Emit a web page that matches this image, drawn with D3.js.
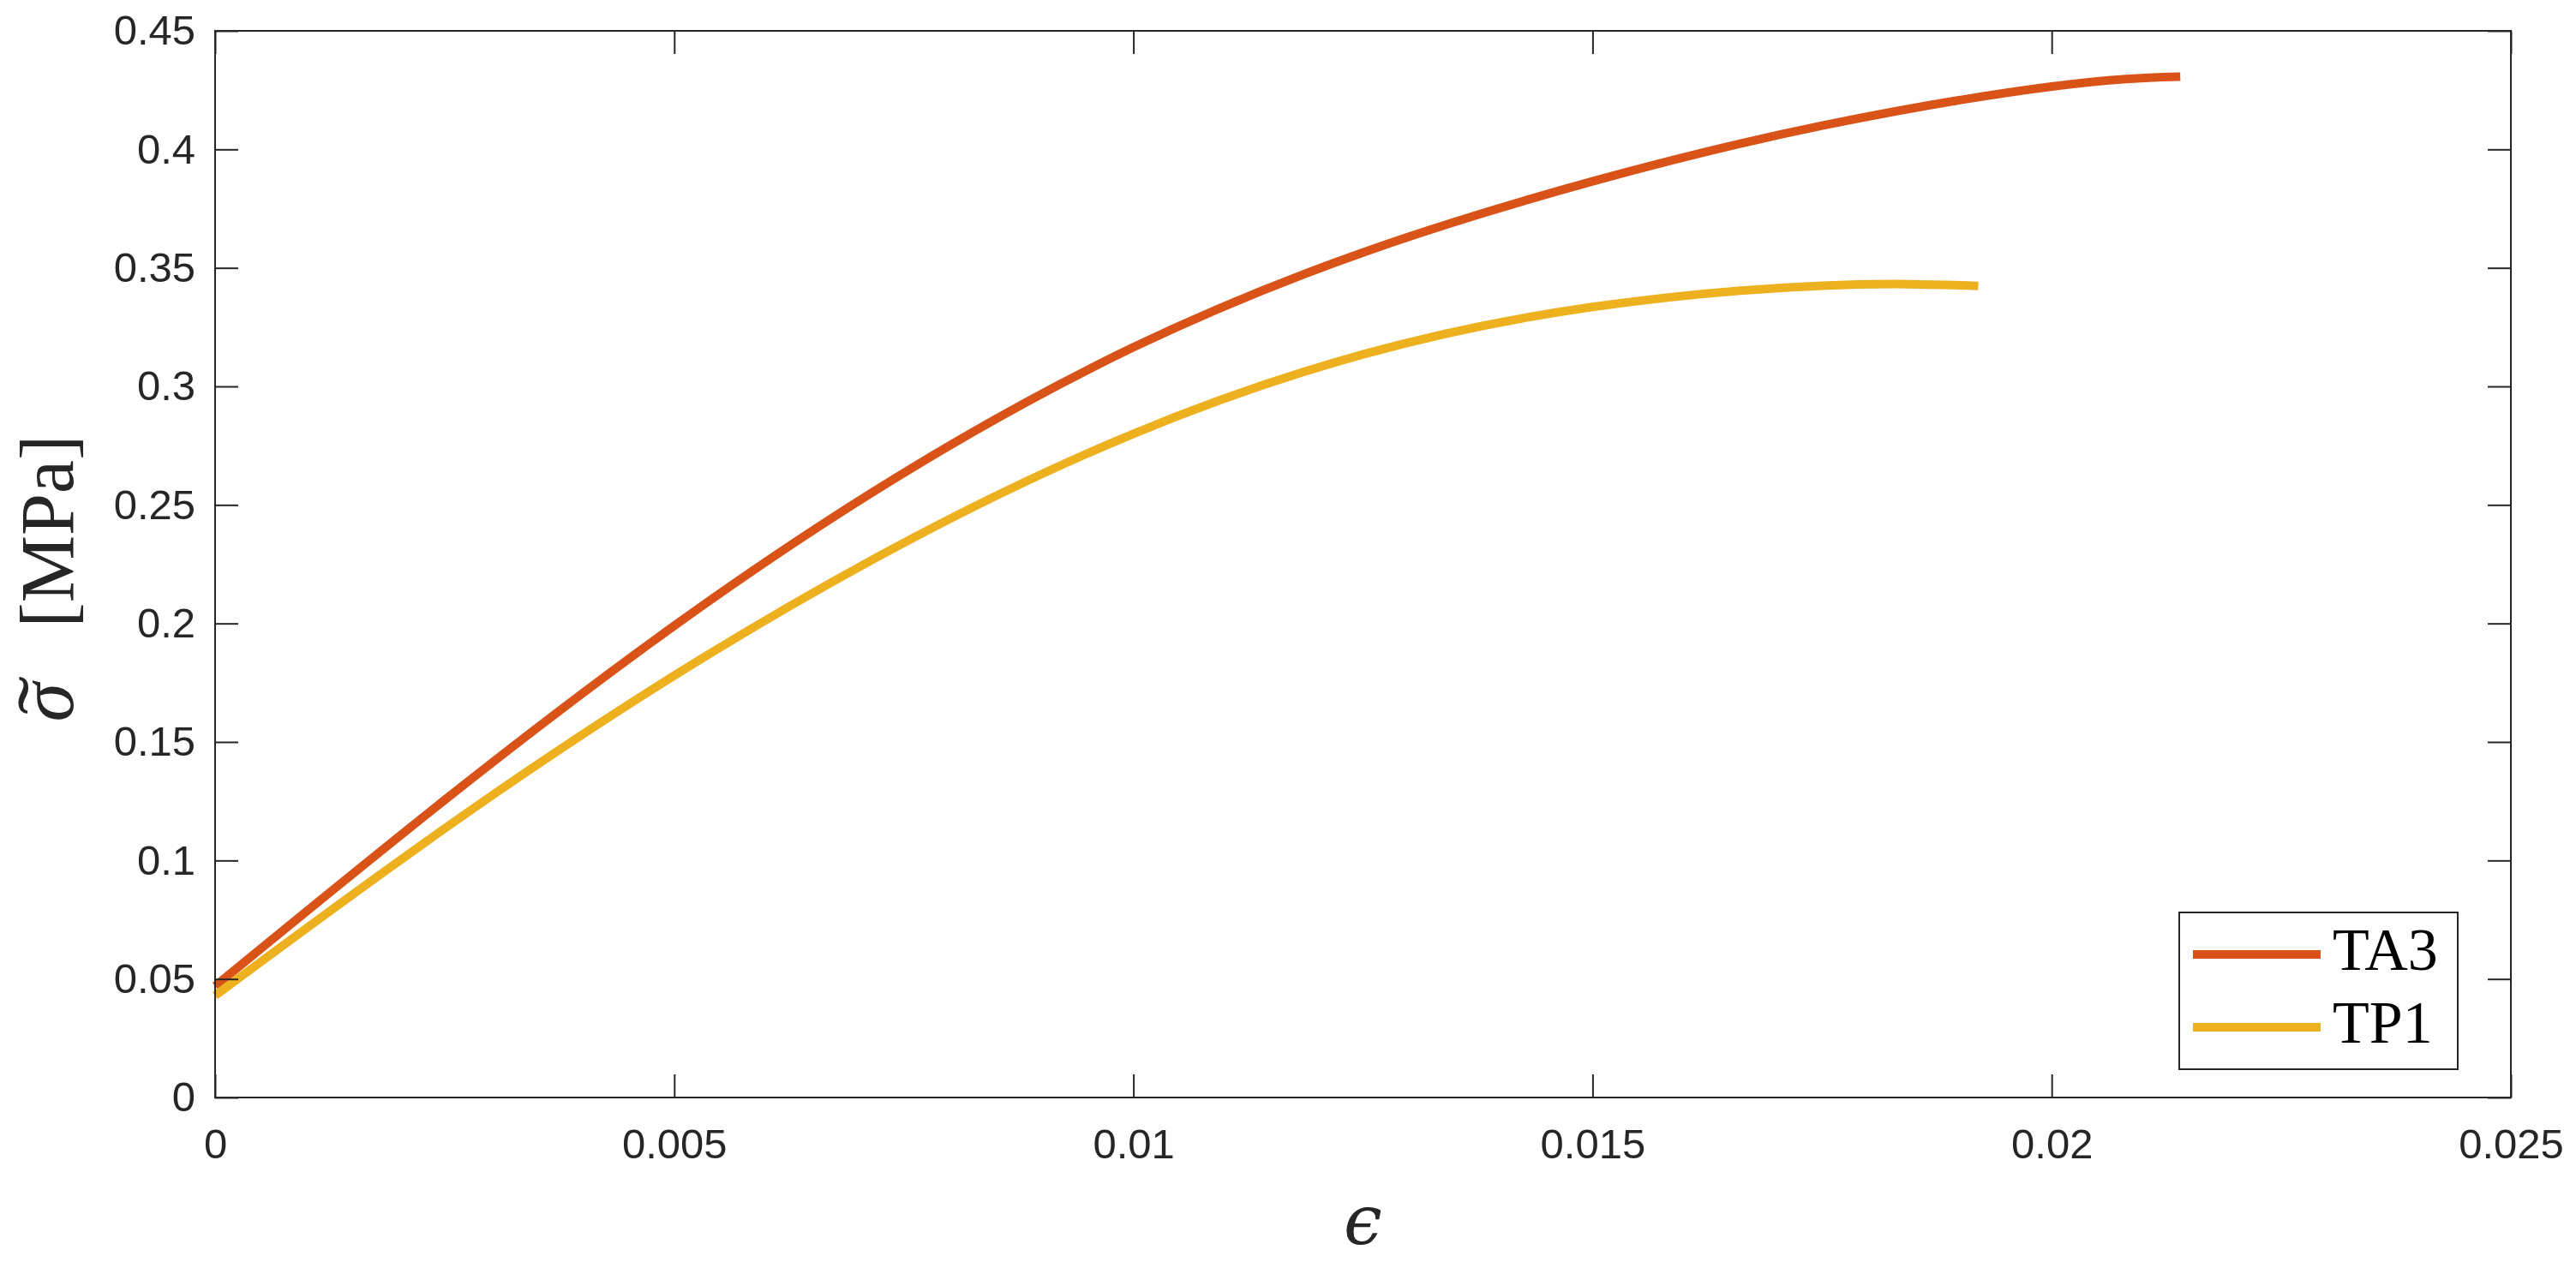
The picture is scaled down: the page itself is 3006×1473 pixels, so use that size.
<!DOCTYPE html>
<html>
<head>
<meta charset="utf-8">
<script src="https://cdn.jsdelivr.net/npm/d3@7"></script>
<style>
  html, body { margin: 0; padding: 0; background: #ffffff; }
  svg { display: block; }
</style>
</head>
<body>
<svg id="chart" width="3006" height="1473"></svg>
<script>
// ---------------- data ----------------
const seriesNames = ["TA3", "TP1"];
const seriesColors = ["#D95319", "#EDB120"];

const strainTA3 = [0, 0.0025, 0.005, 0.0075, 0.010, 0.0125, 0.015, 0.0175, 0.020, 0.0214];
const stressTA3 = [0.047, 0.1255, 0.199, 0.2635, 0.3165, 0.3565, 0.3865, 0.4100, 0.4265, 0.4307];

const strainTP1 = [0, 0.0025, 0.005, 0.0075, 0.010, 0.0125, 0.015, 0.0175, 0.0192];
const stressTP1 = [0.043, 0.1135, 0.178, 0.234, 0.280, 0.3135, 0.3335, 0.3425, 0.3424];

const xTickValues = [0, 0.005, 0.01, 0.015, 0.02, 0.025];
const xTickLabels = ["0", "0.005", "0.01", "0.015", "0.02", "0.025"];
const yTickValues = [0, 0.05, 0.1, 0.15, 0.2, 0.25, 0.3, 0.35, 0.4, 0.45];
const yTickLabels = ["0", "0.05", "0.1", "0.15", "0.2", "0.25", "0.3", "0.35", "0.4", "0.45"];

// ---------------- layout ----------------
const L = 251, R = 2930, T = 36, B = 1281;
const axisColor = "#262626";
const tickLen = 27;

const svg = d3.select("#chart");

const x = d3.scaleLinear().domain([0, 0.025]).range([L, R]);
const y = d3.scaleLinear().domain([0, 0.45]).range([B, T]);

svg.append("rect").attr("x", 0).attr("y", 0).attr("width", 3006).attr("height", 1473).attr("fill", "#fff");

// ---------------- lines ----------------
const series = [
  { name: seriesNames[0], color: seriesColors[0], xs: strainTA3, ys: stressTA3 },
  { name: seriesNames[1], color: seriesColors[1], xs: strainTP1, ys: stressTP1 }
];

const line = d3.line()
  .x(d => x(d[0]))
  .y(d => y(d[1]))
  .curve(d3.curveNatural);

series.forEach(s => {
  const pts = s.xs.map((v, i) => [v, s.ys[i]]);
  svg.append("path")
    .datum(pts)
    .attr("d", line)
    .attr("fill", "none")
    .attr("stroke", s.color)
    .attr("stroke-width", 10)
    .attr("stroke-linecap", "butt")
    .attr("stroke-linejoin", "round");
});

// ---------------- axes ----------------
function styleAxis(g) {
  g.select(".domain").remove();
  g.selectAll(".tick line").attr("stroke", axisColor).attr("stroke-width", 2);
  g.selectAll(".tick text")
    .attr("fill", axisColor)
    .style("font-family", "'Liberation Sans', Arial, Helvetica, sans-serif")
    .style("font-size", "49px");
}

svg.append("g")
  .attr("transform", `translate(0,${B})`)
  .call(d3.axisBottom(x).tickValues(xTickValues)
    .tickFormat((d, i) => xTickLabels[i])
    .tickSizeInner(-tickLen).tickSizeOuter(0).tickPadding(36))
  .call(styleAxis)
  .selectAll(".tick text").attr("y", 36).attr("dy", "0.71em");

svg.append("g")
  .attr("transform", `translate(0,${T})`)
  .call(d3.axisTop(x).tickValues(xTickValues).tickFormat("")
    .tickSizeInner(-tickLen).tickSizeOuter(0))
  .call(styleAxis);

svg.append("g")
  .attr("transform", `translate(${L},0)`)
  .call(d3.axisLeft(y).tickValues(yTickValues)
    .tickFormat((d, i) => yTickLabels[i])
    .tickSizeInner(-tickLen).tickSizeOuter(0).tickPadding(23))
  .call(styleAxis)
  .selectAll(".tick text").attr("x", -23);

svg.append("g")
  .attr("transform", `translate(${R},0)`)
  .call(d3.axisRight(y).tickValues(yTickValues).tickFormat("")
    .tickSizeInner(-tickLen).tickSizeOuter(0))
  .call(styleAxis);

svg.append("rect")
  .attr("x", L).attr("y", T).attr("width", R - L).attr("height", B - T)
  .attr("fill", "none").attr("stroke", axisColor).attr("stroke-width", 2);

// ---------------- axis labels ----------------
svg.append("text")
  .attr("x", (L + R) / 2)
  .attr("y", 1452)
  .attr("text-anchor", "middle")
  .attr("fill", axisColor)
  .style("font-family", "'DejaVu Serif', serif")
  .style("font-style", "italic")
  .style("font-size", "80px")
  .text("\u03F5");

const yl = svg.append("g")
  .attr("transform", `translate(85,${(T + B) / 2 + 12}) rotate(-90)`)
  .attr("fill", axisColor)
  .style("font-family", "'Liberation Serif', 'Times New Roman', serif");

yl.append("text")
  .attr("x", -172)
  .attr("y", 0)
  .style("font-style", "italic")
  .style("font-size", "92px")
  .text("\u03C3");

yl.append("text")
  .attr("transform", "translate(-141,-2) scale(1.5,1)")
  .attr("text-anchor", "middle")
  .style("font-size", "90px")
  .text("\u02DC");

yl.append("text")
  .attr("x", -62)
  .attr("y", 0)
  .style("font-size", "88px")
  .text("[MPa]");

// ---------------- legend ----------------
const lg = svg.append("g");
lg.append("rect")
  .attr("x", 2543).attr("y", 1065).attr("width", 325).attr("height", 183)
  .attr("fill", "#fff").attr("stroke", axisColor).attr("stroke-width", 2);

const legendRowsY = [1114, 1199];
series.forEach((s, i) => {
  lg.append("line")
    .attr("x1", 2559).attr("x2", 2708)
    .attr("y1", legendRowsY[i]).attr("y2", legendRowsY[i])
    .attr("stroke", s.color).attr("stroke-width", 10);
  lg.append("text")
    .attr("x", 2722)
    .attr("y", legendRowsY[i] + 18)
    .attr("fill", "#000")
    .style("font-family", "'Liberation Serif', 'Times New Roman', serif")
    .style("font-size", "70px")
    .text(s.name);
});
</script>
</body>
</html>
